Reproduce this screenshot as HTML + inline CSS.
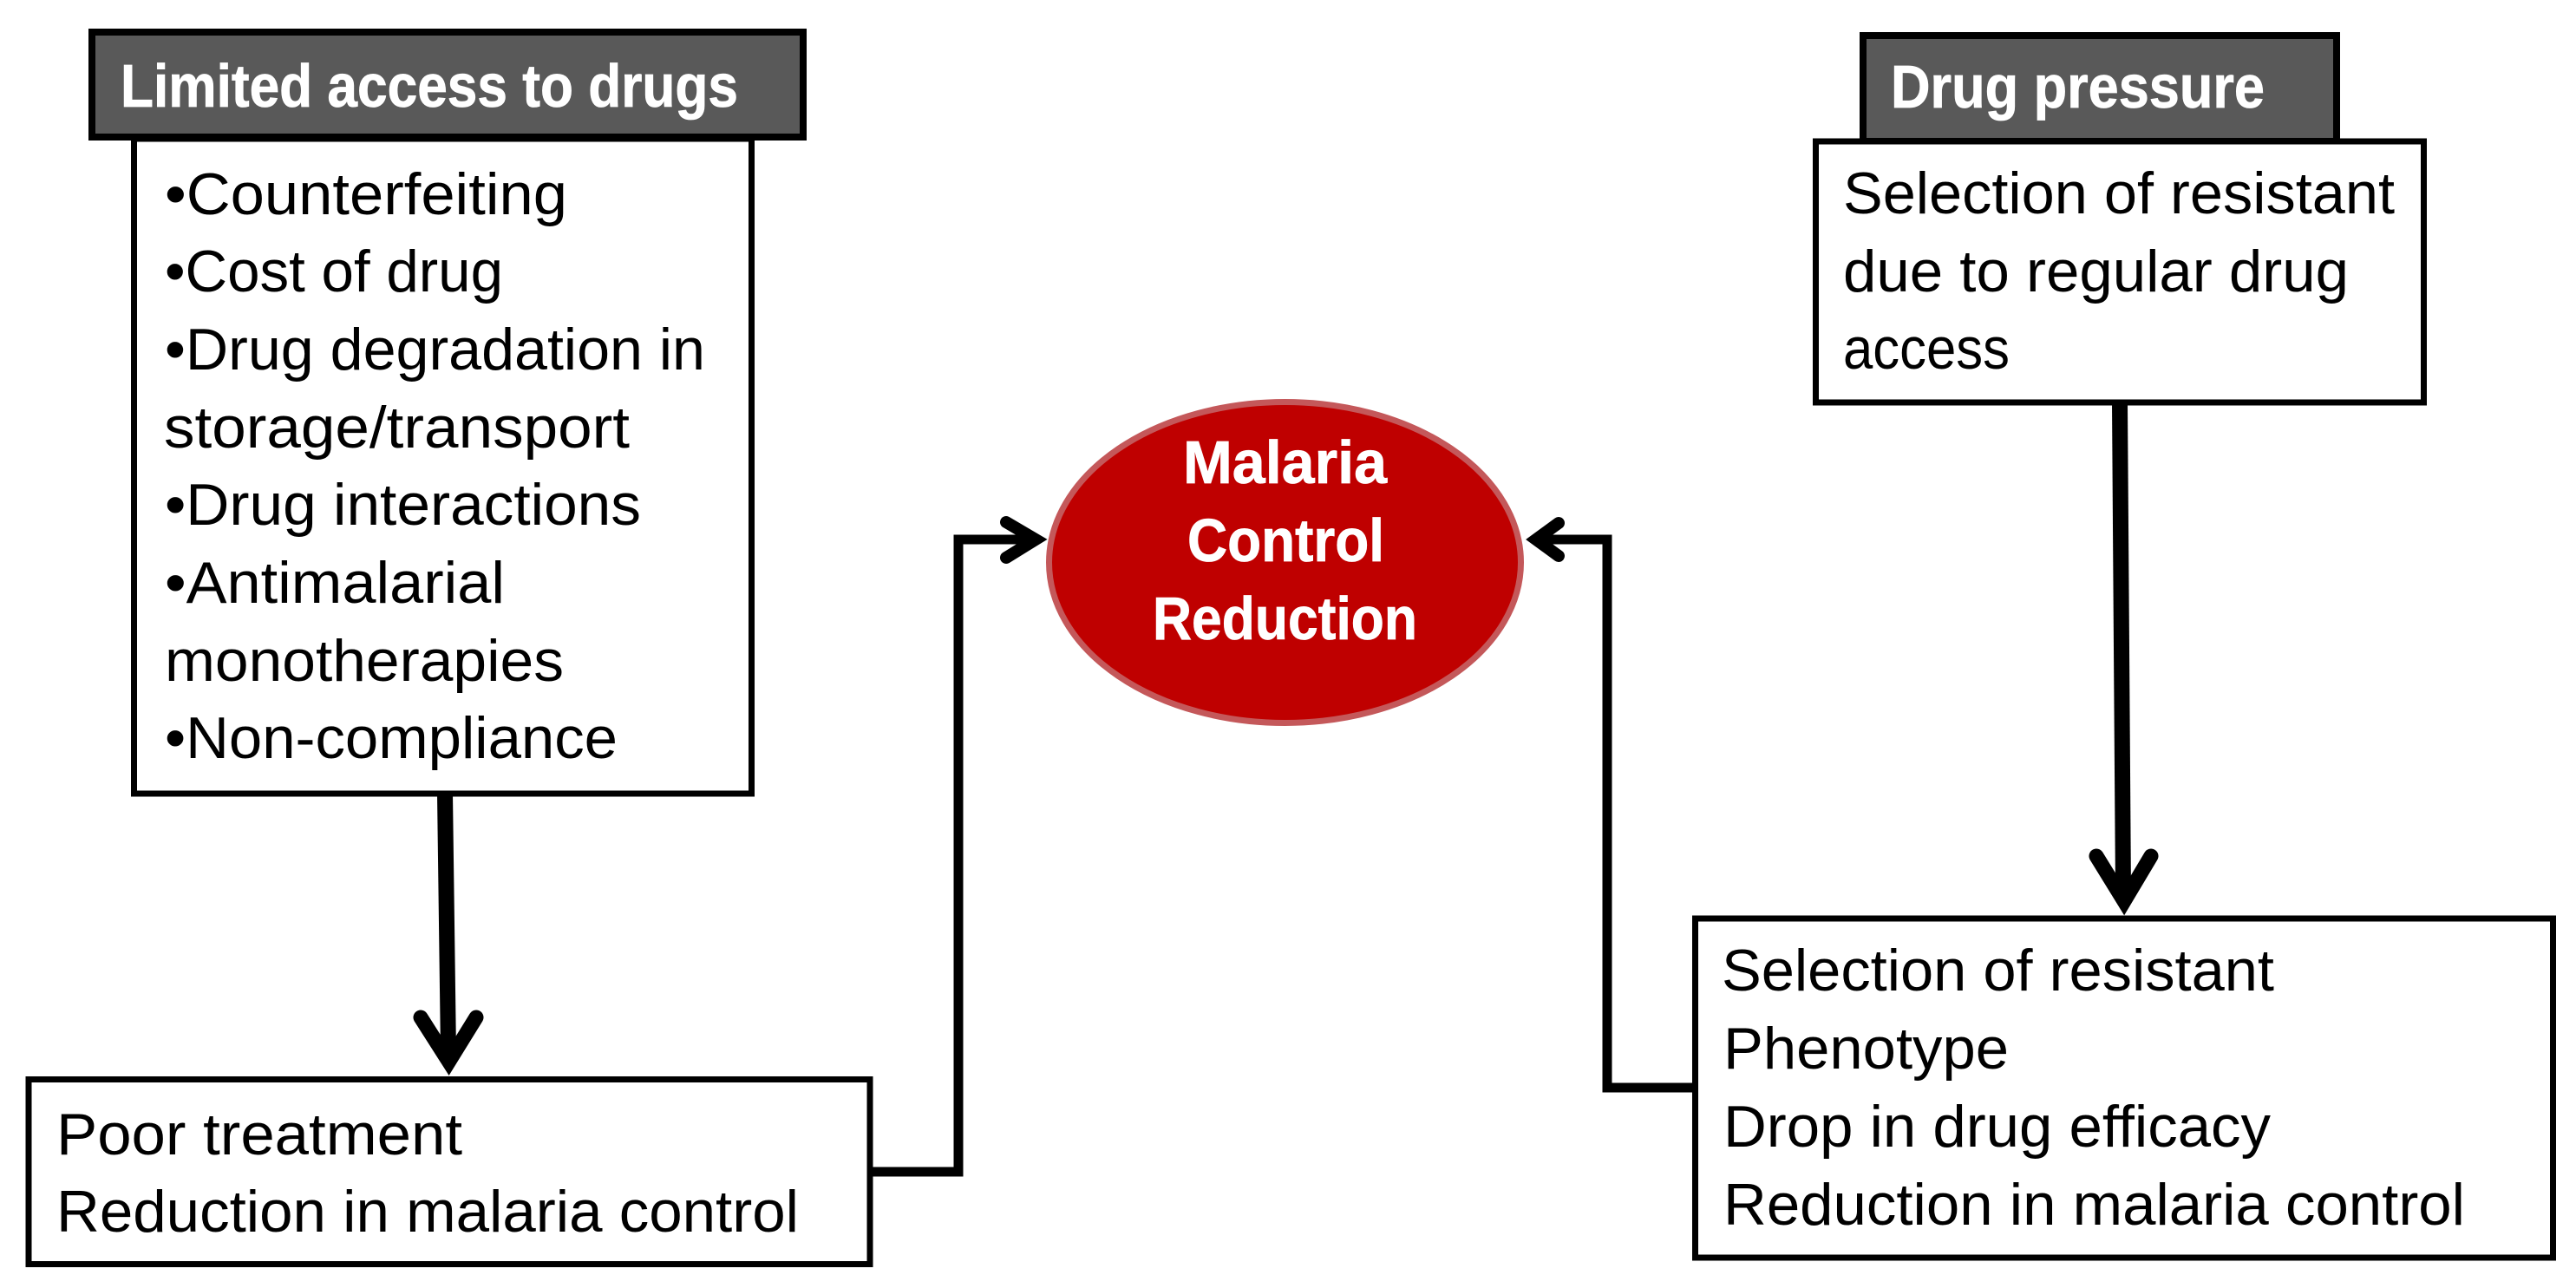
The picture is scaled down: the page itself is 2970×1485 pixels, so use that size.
<!DOCTYPE html>
<html>
<head>
<meta charset="utf-8">
<style>
html,body{margin:0;padding:0;background:#fff;width:2970px;height:1485px;overflow:hidden}
svg{display:block}
text{font-family:"Liberation Sans",sans-serif;font-size:68px;fill:#000}
.b{font-weight:bold;fill:#fff;font-size:70px;stroke:#fff;stroke-width:.8px}
</style>
</head>
<body>
<svg width="2970" height="1485" viewBox="0 0 2970 1485" xmlns="http://www.w3.org/2000/svg">
<rect width="2970" height="1485" fill="#fff"/>

<!-- connectors -->
<polygon points="504,915 522,915 526,1215 508,1215" fill="#000"/>
<polyline points="485,1173 517.5,1224 549,1173" fill="none" stroke="#000" stroke-width="17" stroke-linecap="round" stroke-linejoin="miter" stroke-miterlimit="10"/>

<polygon points="2435,465 2453,465 2457,1030 2439,1030" fill="#000"/>
<polyline points="2417,987 2449,1039 2480,987" fill="none" stroke="#000" stroke-width="17" stroke-linecap="round" stroke-linejoin="miter" stroke-miterlimit="10"/>

<polyline points="1004,1351 1105,1351 1105,622 1190,622" fill="none" stroke="#000" stroke-width="11"/>
<polyline points="1160,602 1194,622 1160,643" fill="none" stroke="#000" stroke-width="14" stroke-linecap="round" stroke-miterlimit="10"/>

<polyline points="1953,1254 1853,1254 1853,622 1775,622" fill="none" stroke="#000" stroke-width="11"/>
<polyline points="1797,603 1771,622 1797,641" fill="none" stroke="#000" stroke-width="14" stroke-linecap="round" stroke-miterlimit="10"/>

<!-- ellipse -->
<ellipse cx="1481.5" cy="648.5" rx="272" ry="185" fill="#bf0000" stroke="#c4585a" stroke-width="7"/>
<text class="b" x="1364" y="557" textLength="235" lengthAdjust="spacingAndGlyphs">Malaria</text>
<text class="b" x="1369" y="647" textLength="227" lengthAdjust="spacingAndGlyphs">Control</text>
<text class="b" x="1329" y="737" textLength="305" lengthAdjust="spacingAndGlyphs">Reduction</text>

<!-- left column -->
<rect x="154.5" y="160" width="712" height="755" fill="#fff" stroke="#000" stroke-width="7"/>
<rect x="106" y="37" width="820" height="121" fill="#595959" stroke="#000" stroke-width="8"/>
<text class="b" x="139" y="123" textLength="712" lengthAdjust="spacingAndGlyphs">Limited access to drugs</text>
<text x="190" y="247" textLength="464" lengthAdjust="spacingAndGlyphs">•Counterfeiting</text>
<text x="190" y="336" textLength="390" lengthAdjust="spacingAndGlyphs">•Cost of drug</text>
<text x="190" y="426" textLength="623" lengthAdjust="spacingAndGlyphs">•Drug degradation in</text>
<text x="189" y="516" textLength="537" lengthAdjust="spacingAndGlyphs">storage/transport</text>
<text x="190" y="605" textLength="549" lengthAdjust="spacingAndGlyphs">•Drug interactions</text>
<text x="190" y="695" textLength="392" lengthAdjust="spacingAndGlyphs">•Antimalarial</text>
<text x="190" y="785" textLength="460" lengthAdjust="spacingAndGlyphs">monotherapies</text>
<text x="190" y="874" textLength="522" lengthAdjust="spacingAndGlyphs">•Non-compliance</text>

<rect x="33" y="1244.5" width="970" height="213" fill="#fff" stroke="#000" stroke-width="7"/>
<text x="65" y="1331" textLength="468" lengthAdjust="spacingAndGlyphs">Poor treatment</text>
<text x="65" y="1420" textLength="856" lengthAdjust="spacingAndGlyphs">Reduction in malaria control</text>

<!-- right column -->
<rect x="2148" y="41" width="546" height="122" fill="#595959" stroke="#000" stroke-width="8"/>
<text class="b" x="2180" y="124" textLength="431" lengthAdjust="spacingAndGlyphs">Drug pressure</text>
<rect x="2093.5" y="163" width="701" height="301" fill="#fff" stroke="#000" stroke-width="7"/>
<text x="2125" y="246" textLength="636" lengthAdjust="spacingAndGlyphs">Selection of resistant</text>
<text x="2125" y="336" textLength="583" lengthAdjust="spacingAndGlyphs">due to regular drug</text>
<text x="2125" y="425" textLength="192" lengthAdjust="spacingAndGlyphs">access</text>

<rect x="1954.5" y="1059" width="989" height="391" fill="#fff" stroke="#000" stroke-width="7"/>
<text x="1985" y="1142" textLength="637" lengthAdjust="spacingAndGlyphs">Selection of resistant</text>
<text x="1987" y="1232" textLength="329" lengthAdjust="spacingAndGlyphs">Phenotype</text>
<text x="1987" y="1322" textLength="631" lengthAdjust="spacingAndGlyphs">Drop in drug efficacy</text>
<text x="1987" y="1412" textLength="855" lengthAdjust="spacingAndGlyphs">Reduction in malaria control</text>
</svg>
</body>
</html>
